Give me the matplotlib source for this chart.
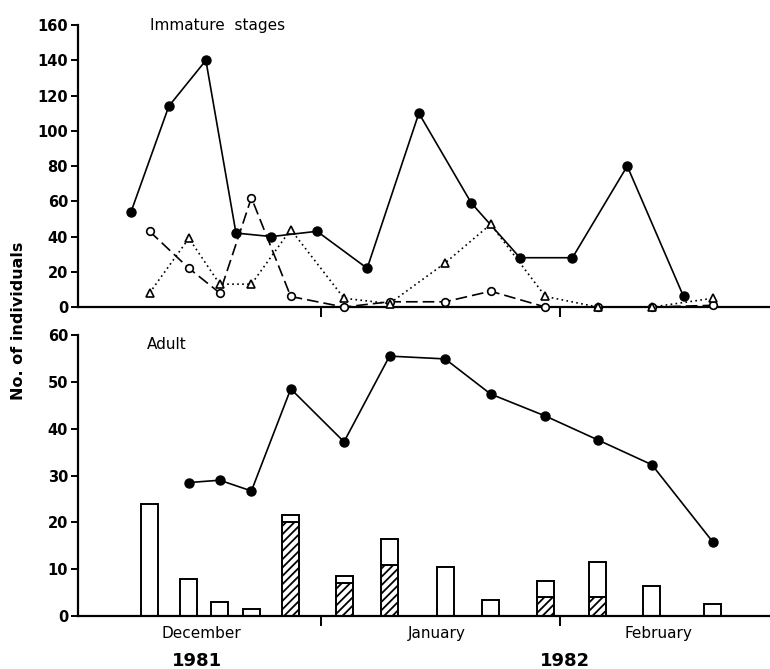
import numpy as np
import matplotlib.pyplot as plt
from matplotlib.transforms import blended_transform_factory

# sampling days (days from 1 December 1981)
days_a = [8.8, 13.9, 17.9, 22.0, 27.1, 34.0, 39.9, 47.1, 53.0, 60.1, 66.9, 73.9, 81.8]
days_b = [6.4, 11.3, 16.1, 20.0, 24.6, 30.5, 37.0, 43.7, 50.5, 56.8, 63.6, 70.7, 78.0]

# immature stages
imm_filled = [54, 114, 140, 42, 40, 43, 22, 110, 59, 28, 28, 80, 6]
imm_open = [43, 22, 8, 62, 6, 0, 3, 3, 9, 0, 0, 0, 1]
imm_tri = [8, 39, 13, 13, 44, 5, 2, 25, 47, 6, 0, 0, 5]

# adults
adult_days = days_a[1:]
adult_line = [28.5, 29, 26.7, 48.5, 37.2, 55.5, 54.9, 47.4, 42.7, 37.6, 32.3, 15.8]
bar_total = [24, 8, 3, 1.5, 21.5, 8.5, 16.5, 10.4, 3.5, 7.5, 11.5, 6.5, 2.5]
bar_hatched = [0, 0, 0, 0, 20, 7, 11, 0, 0, 4, 4, 0, 0]

month_bounds = [31, 62]
month_mid = [15.5, 46.0, 74.7]
month_names = ['December', 'January', 'February']

plt.rcParams['hatch.linewidth'] = 1.3
fig = plt.figure(figsize=(7.7, 6.69), dpi=100)
ax1 = fig.add_axes([0.101, 0.541, 0.899, 0.4215])
ax2 = fig.add_axes([0.101, 0.0792, 0.899, 0.42])

lw = 1.2
ax1.plot(days_b, imm_filled, '-', color='black', lw=lw, marker='o', ms=6.5, mfc='black',
         clip_on=False, zorder=3)
ax1.plot(days_a, imm_open, color='black', lw=lw, ls=(0, (7, 3)), marker='o', ms=5.5,
         mfc='white', mew=1.2, clip_on=False, zorder=3)
ax1.plot(days_a, imm_tri, color='black', lw=lw, ls=(0, (1, 2)), marker='^', ms=5.5,
         mfc='white', mew=1.2, clip_on=False, zorder=3)
ax1.set_ylim(0, 160)
ax1.set_yticks(np.arange(0, 161, 20))
ax1.text(8.8, 160, 'Immature  stages', fontsize=11, va='center', ha='left')

# bars
bar_w = 2.2
open_part = np.array(bar_total) - np.array(bar_hatched)
ax2.bar(days_a, bar_hatched, width=bar_w, color='white', edgecolor='black',
        hatch='////', lw=1.4, zorder=2)
ax2.bar(days_a, open_part, width=bar_w, bottom=bar_hatched, color='white',
        edgecolor='black', lw=1.4, zorder=2)
ax2.plot(adult_days, adult_line, '-', color='black', lw=lw, marker='o', ms=6.5,
         mfc='black', zorder=3)
ax2.set_ylim(0, 60)
ax2.set_yticks(np.arange(0, 61, 10))
ax2.text(8.5, 58, 'Adult', fontsize=11, va='center', ha='left')

for ax in (ax1, ax2):
    ax.set_xlim(-0.5, 89.2)
    for s in ('top', 'right'):
        ax.spines[s].set_visible(False)
    ax.spines['left'].set_linewidth(1.6)
    ax.spines['bottom'].set_linewidth(1.6)
    ax.set_xticks(month_bounds)
    ax.set_xticklabels([])
    ax.tick_params(axis='x', which='major', length=7, width=1.4, direction='out')
    ax.tick_params(axis='y', length=5, width=1.4, labelsize=10.5, pad=2)
    for lab in ax.get_yticklabels():
        lab.set_fontweight('bold')

ax2.set_xticks(month_mid, minor=True)
ax2.set_xticklabels(month_names, minor=True, fontsize=11)
ax2.tick_params(axis='x', which='minor', length=0, pad=7)

trans = blended_transform_factory(ax2.transData, fig.transFigure)
ax2.text(15.0, 0.012, '1981', transform=trans, fontsize=13, fontweight='bold',
         ha='center', va='center')
ax2.text(62.7, 0.012, '1982', transform=trans, fontsize=13, fontweight='bold',
         ha='center', va='center')

fig.text(0.024, 0.52, 'No. of individuals', rotation=90, fontsize=11.5,
         fontweight='bold', ha='center', va='center')

fig.savefig('out.png', dpi=100)
